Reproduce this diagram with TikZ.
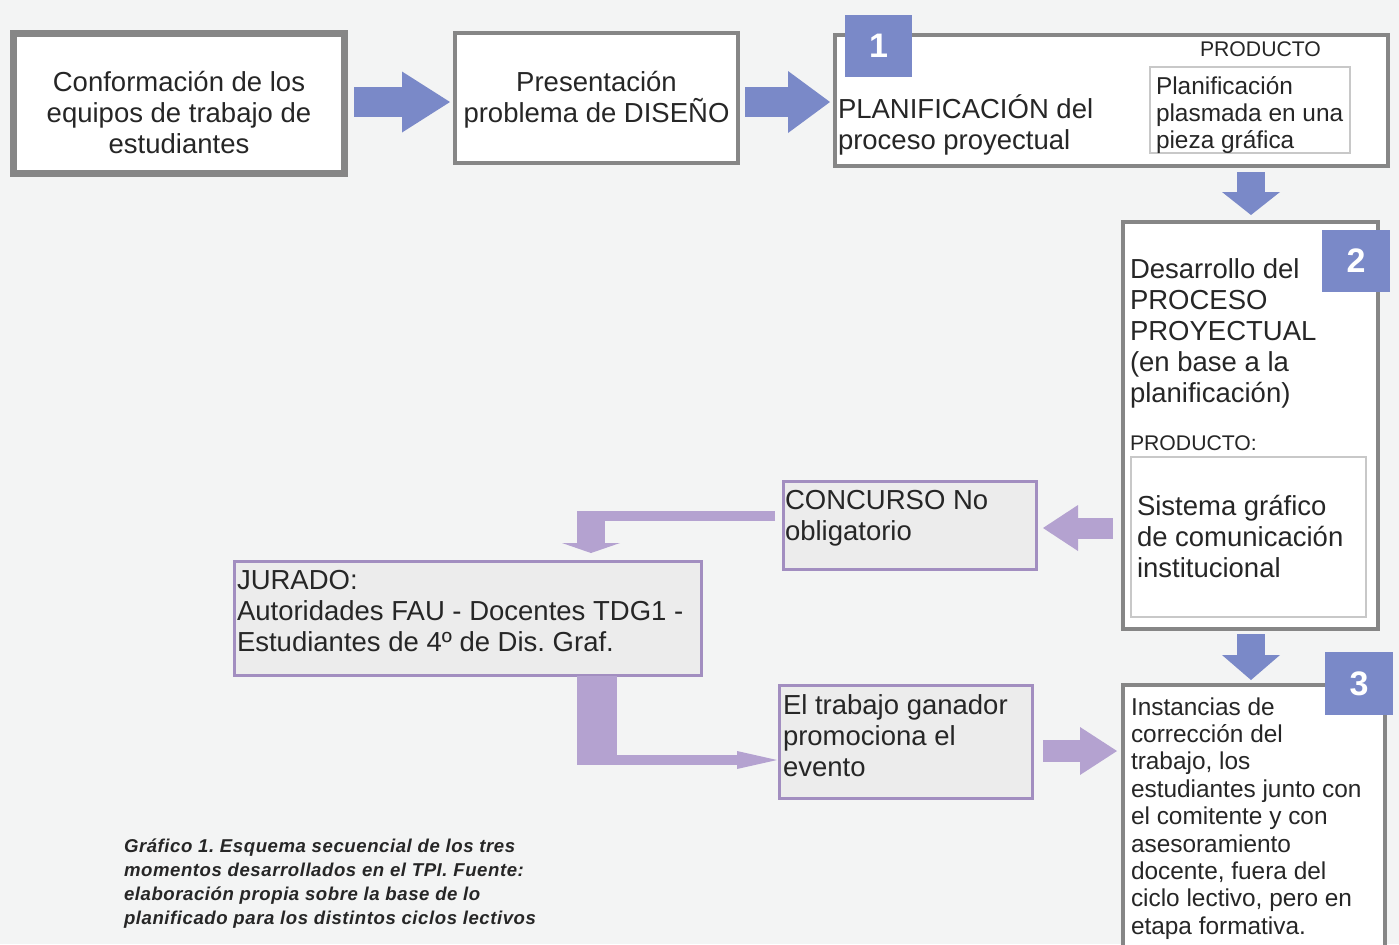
\documentclass[tikz,border=0pt]{standalone}
\usepackage{fontspec}
\setmainfont{Liberation Sans}
\newfontfamily\capfont[LetterSpace=3]{Liberation Sans}
\usetikzlibrary{arrows.meta,calc}
\definecolor{bgc}{RGB}{243,244,244}
\definecolor{greyc}{RGB}{134,134,134}
\definecolor{ltgrey}{RGB}{200,200,200}
\definecolor{bluec}{RGB}{122,137,200}
\definecolor{purpa}{RGB}{180,162,208}
\definecolor{purpc}{RGB}{162,142,192}
\definecolor{pfill}{RGB}{236,236,236}
\definecolor{txtc}{RGB}{38,38,38}
\newcommand\fbig{\fontsize{13.75pt}{15.5pt}\selectfont}
\newcommand\fmid{\fontsize{12.2pt}{13.7pt}\selectfont}
\newcommand\fsmall{\fontsize{10.6pt}{12pt}\selectfont}
\newcommand\fnum{\fontsize{17pt}{17pt}\selectfont\bfseries}
\newcommand\fcap{\capfont\fontsize{9.3pt}{12pt}\selectfont\bfseries\itshape}
\newcommand\LL[1]{\begin{tabular}[t]{@{}l@{}}#1\end{tabular}}
\newcommand\CC[1]{\begin{tabular}[t]{@{}c@{}}#1\end{tabular}}
\frenchspacing
\begin{document}
\frenchspacing
\begin{tikzpicture}[x=0.5pt,y=-0.5pt,
  gbox/.style={draw=greyc, fill=white, line width=2pt, outer sep=0pt, inner sep=0pt},
  pbox/.style={draw=purpc, fill=pfill, line width=1.5pt, outer sep=0pt, inner sep=0pt},
  ibox/.style={draw=ltgrey, fill=white, line width=0.7pt, outer sep=0pt, inner sep=0pt},
  numsq/.style={fill=bluec, inner sep=0pt, outer sep=0pt, text=white, font=\fnum},
  txt/.style={inner sep=0pt, outer sep=0pt, text=txtc},
  barrow/.style={draw=bluec, line cap=butt},
  parrow/.style={draw=purpa, line cap=butt}
]
\fill[bgc] (0,0) rectangle (1399,944);
\useasboundingbox (0,0) rectangle (1399,944);

% boxes
\node[gbox, line width=3.5pt, minimum width=165.5pt, minimum height=70pt] (A) at (179,103.5) {};
\node[gbox, minimum width=141.5pt, minimum height=65pt] (B) at (596.5,98) {};
\node[gbox, minimum width=276.5pt, minimum height=65.5pt] (C) at (1111.5,100.5) {};
\node[ibox, minimum width=100pt, minimum height=43pt] (Cin) at (1250,110) {};
\node[gbox, minimum width=127.5pt, minimum height=203.5pt] (D) at (1250.5,425.5) {};
\node[ibox, minimum width=117.5pt, minimum height=80pt] (Din) at (1248.5,537) {};
\node[gbox, minimum width=131pt, minimum height=137.5pt] (E) at (1254,822.5) {};
\node[pbox, minimum width=126.5pt, minimum height=44pt] (F) at (910,525.5) {};
\node[pbox, minimum width=233.5pt, minimum height=57pt] (G) at (468,618.5) {};
\node[pbox, minimum width=126.5pt, minimum height=56.5pt] (H) at (906,742) {};

% number squares
\node[numsq, minimum width=33.5pt, minimum height=31pt] (S1) at (878.5,46) {1};
\node[numsq, minimum width=34pt, minimum height=31pt] (S2) at (1356,261) {2};
\node[numsq, minimum width=34pt, minimum height=31.5pt] (S3) at (1359,683.5) {3};

% blue arrows
\draw[barrow, line width=15pt, -{Triangle[length=24pt,width=30.5pt,line width=0pt]}]
  ($(A.east)+(9.5,-1.5)$) -- ($(B.west)+(-5,4)$);
\draw[barrow, line width=15pt, -{Triangle[length=21pt,width=31pt,line width=0pt]}]
  ($(B.east)+(7,4)$) -- ($(C.west)+(-5,1.5)$);
\draw[barrow, line width=14pt, -{Triangle[length=11.5pt,width=29pt,line width=0pt]}]
  ($(D.north |- C.south)+(0.5,6)$) -- ($(D.north)+(0.5,-7)$);
\draw[barrow, line width=14pt, -{Triangle[length=12.5pt,width=29pt,line width=0pt]}]
  ($(D.south)+(0.5,5)$) -- ($(D.south |- E.north)+(0.5,-5)$);

% purple arrows
\draw[parrow, line width=10.5pt, -{Triangle[length=17.5pt,width=23pt,line width=0pt]}]
  ($(D.west |- F.east)+(-10,2.5)$) -- ($(F.east)+(6.5,2.5)$);
\draw[parrow, line width=11pt, -{Triangle[length=18.5pt,width=24pt,line width=0pt]}]
  ($(H.east)+(10.5,9)$) -- ($(E.west |- H.east)+(-6,9)$);
\coordinate (fgc) at (591,516);
\draw[parrow, line width=5pt] ($(F.west)+(-8.5,-9.5)$) -- ($(fgc)+(-14,0)$);
\draw[parrow, line width=14pt, -{Triangle[length=5pt,width=29pt,line width=0pt]}]
  ($(fgc)+(0,-5)$) -- ($(fgc |- G.north)+(0,-8.5)$);
\coordinate (ghc) at (597,760);
\draw[parrow, line width=20pt] (ghc |- G.south) -- ($(ghc)+(0,5)$);
\draw[parrow, line width=5pt, -{Triangle[length=20pt,width=9pt,line width=0pt]}]
  ($(ghc)+(-20,0)$) -- ($(H.west)+(-2.5,18)$);

% texts
\node[txt, font=\fbig, anchor=base] (At) at (179,91) {\CC{Conformación de los\\equipos de trabajo de\\estudiantes}};
\node[txt, font=\fbig, anchor=base] (Bt) at (596.5,91) {\CC{Presentación\\problema de DISE\smash{Ñ}O}};
\node[txt, font=\fbig, anchor=base west] (Ct) at (838,118) {\LL{PLANIFICACIÓN del\\proceso proyectual}};
\node[txt, font=\fsmall, anchor=base west] (Cp) at (1200,56) {PRODUCTO};
\node[txt, font=\fmid, anchor=base west] (Cint) at (1156,94) {\LL{Planificación\\plasmada en una\\pieza gráfica}};
\node[txt, font=\fbig, anchor=base west] (Dt) at (1130,278) {\LL{Desarrollo del\\PROCESO\\PROYECTUAL\\(en base a la\\planificación)}};
\node[txt, font=\fsmall, anchor=base west] (Dp) at (1130,450) {PRODUCTO:};
\node[txt, font=\fbig, anchor=base west] (Dint) at (1137,515) {\LL{Sistema gráfico\\de comunicación\\institucional}};
\node[txt, font=\fmid, anchor=base west] (Et) at (1131,715) {\LL{Instancias de\\corrección del\\trabajo, los\\estudiantes junto con\\el comitente y con\\asesoramiento\\docente, fuera del\\ciclo lectivo, pero en\\etapa formativa.}};
\node[txt, font=\fbig, anchor=base west] (Ft) at (785,509) {\LL{CONCURSO No\\obligatorio}};
\node[txt, font=\fbig, anchor=base west] (Gt) at (237,589) {\LL{JURADO:\\Autoridades FAU - Docentes TDG1 -\\Estudiantes de 4º de Dis. Graf.}};
\node[txt, font=\fbig, anchor=base west] (Ht) at (783,714) {\LL{El trabajo ganador\\promociona el\\evento}};
\node[txt, font=\fcap, text=txtc, anchor=base west] (cap) at (124,852) {\LL{Gráfico 1. Esquema secuencial de los tres\\momentos desarrollados en el TPI. Fuente:\\elaboración propia sobre la base de lo\\planificado para los distintos ciclos lectivos}};
\end{tikzpicture}
\end{document}
